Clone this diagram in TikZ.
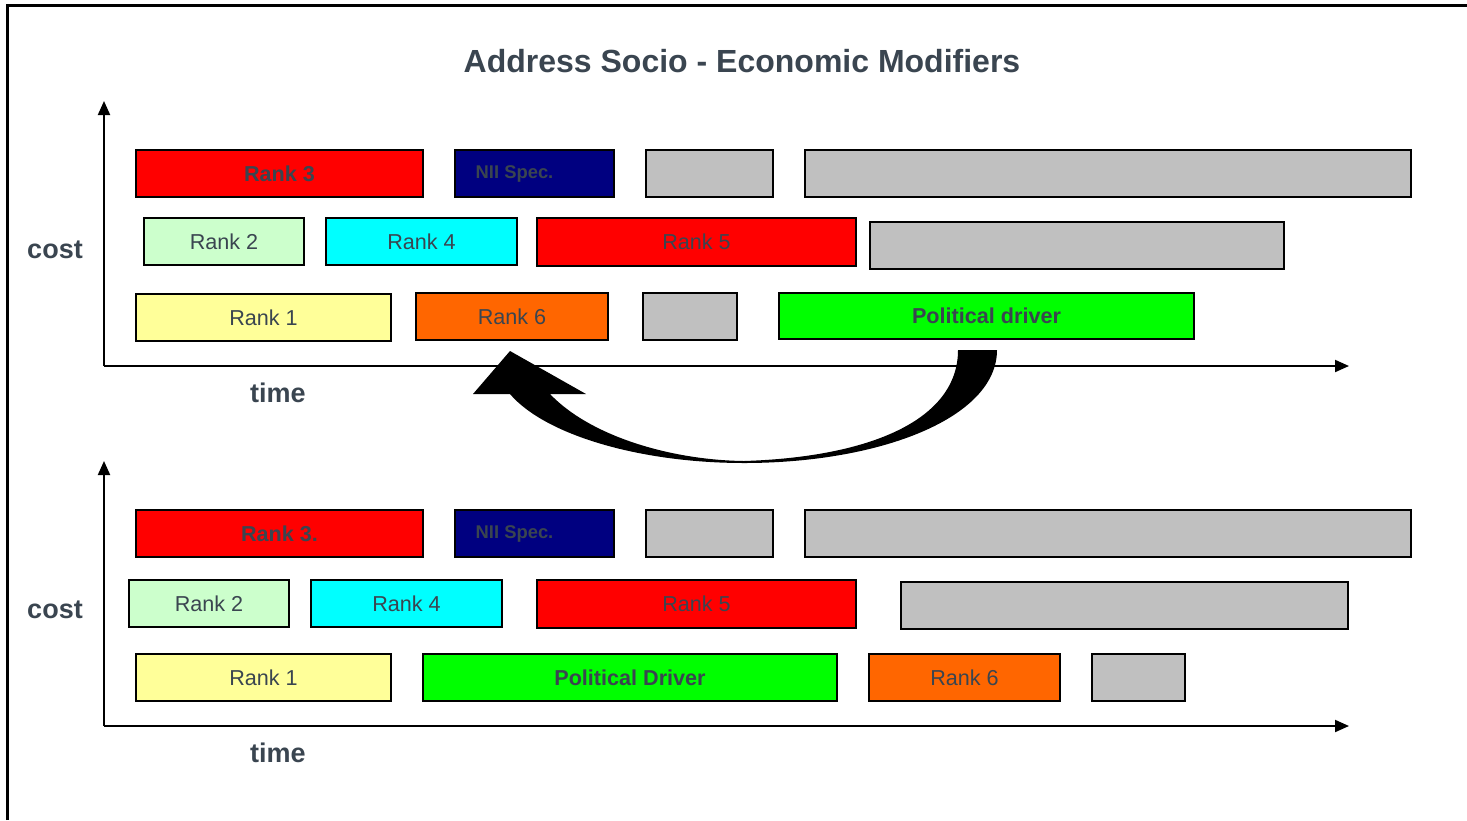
\documentclass[tikz,border=0pt]{standalone}
\usepackage{fontspec}
\setmainfont{Liberation Sans}
\usetikzlibrary{arrows.meta}
\definecolor{txt}{HTML}{3A4550}
\definecolor{rred}{HTML}{FF0000}
\definecolor{rnavy}{HTML}{000080}
\definecolor{rgray}{HTML}{C0C0C0}
\definecolor{rmint}{HTML}{CCFFCC}
\definecolor{rcyan}{HTML}{00FFFF}
\definecolor{ryel}{HTML}{FFFF99}
\definecolor{rorange}{HTML}{FF6600}
\definecolor{rgreen}{HTML}{00FF00}
\begin{document}
\begin{tikzpicture}[x=0.5pt,y=-0.5pt,
  bar/.style={draw=black,line width=0.9pt,inner sep=0pt,outer sep=0pt,text=txt,font=\fontsize{10.8}{13}\selectfont},
  bartxt/.style={font=\fontsize{10.8}{13}\selectfont\bfseries},
  niitxt/.style={xshift=-10pt,font=\fontsize{9.2}{11}\selectfont\bfseries},
  axis/.style={line width=1pt,-{Triangle[length=7pt,width=6pt]}},
  lab/.style={text=txt,font=\fontsize{13.5}{16}\selectfont\bfseries}]
\useasboundingbox (0,0) rectangle (1467,820);
\draw[line width=1.5pt] (7,820) -- (7,5) -- (1467,5);
\node[text=txt,font=\fontsize{16}{19}\selectfont\bfseries] (title) at (742,61) {Address Socio - Economic Modifiers};
% ---------- top chart ----------
\coordinate (o1) at (104,366);
\coordinate (y1) at (104,101);
\coordinate (x1) at (1349,366);
\draw[axis] (o1) -- (y1);
\draw[axis] (o1) -- (x1);
\node[lab] (cost1) at (55,250) {cost};
\node[lab] (time1) at (278,393) {time};
\path[bar,fill=rred] (136,150) rectangle (423,197) node[midway,bartxt] (a3) {Rank 3};
\path[bar,fill=rnavy] (455,150) rectangle (614,197) node[midway,niitxt] (anii) {NII Spec.};
\path[bar,fill=rgray] (646,150) rectangle (773,197);
\path[bar,fill=rgray] (805,150) rectangle (1411,197);
\path[bar,fill=rmint] (144,218) rectangle (304,265) node[midway] (a2) {Rank 2};
\path[bar,fill=rcyan] (326,218) rectangle (517,265) node[midway] (a4) {Rank 4};
\path[bar,fill=rred] (537,218) rectangle (856,266) node[midway] (a5) {Rank 5};
\path[bar,fill=rgray] (870,222) rectangle (1284,269);
\path[bar,fill=ryel] (136,294) rectangle (391,341) node[midway] (a1) {Rank 1};
\path[bar,fill=rorange] (416,293) rectangle (608,340) node[midway] (a6) {Rank 6};
\path[bar,fill=rgray] (643,293) rectangle (737,340);
\path[bar,fill=rgreen] (779,293) rectangle (1194,339) node[midway,bartxt] (apd) {Political driver};
% ---------- bottom chart ----------
\coordinate (o2) at (104,726);
\coordinate (y2) at (104,461);
\coordinate (x2) at (1349,726);
\draw[axis] (o2) -- (y2);
\draw[axis] (o2) -- (x2);
\node[lab] (cost2) at (55,610) {cost};
\node[lab] (time2) at (278,753) {time};
\path[bar,fill=rred] (136,510) rectangle (423,557) node[midway,bartxt] (b3) {Rank 3.};
\path[bar,fill=rnavy] (455,510) rectangle (614,557) node[midway,niitxt] (bnii) {NII Spec.};
\path[bar,fill=rgray] (646,510) rectangle (773,557);
\path[bar,fill=rgray] (805,510) rectangle (1411,557);
\path[bar,fill=rmint] (129,580) rectangle (289,627) node[midway] (b2) {Rank 2};
\path[bar,fill=rcyan] (311,580) rectangle (502,627) node[midway] (b4) {Rank 4};
\path[bar,fill=rred] (537,580) rectangle (856,628) node[midway] (b5) {Rank 5};
\path[bar,fill=rgray] (901,582) rectangle (1348,629);
\path[bar,fill=ryel] (136,654) rectangle (391,701) node[midway] (b1) {Rank 1};
\path[bar,fill=rgreen] (423,654) rectangle (837,701) node[midway,bartxt] (bpd) {Political Driver};
\path[bar,fill=rorange] (869,654) rectangle (1060,701) node[midway] (b6) {Rank 6};
\path[bar,fill=rgray] (1092,654) rectangle (1185,701);
% ---------- curved arrow ----------
\fill[black] (997,350) .. controls (997,418) and (880,463) .. (744,463)
  .. controls (640,463) and (545,435) .. (510,394)
  -- (473,394) -- (510,351) -- (586,394) -- (550,394)
  .. controls (590,436) and (670,460) .. (744,461)
  .. controls (870,457) and (958,420) .. (958,350) -- cycle;
\end{tikzpicture}
\end{document}
